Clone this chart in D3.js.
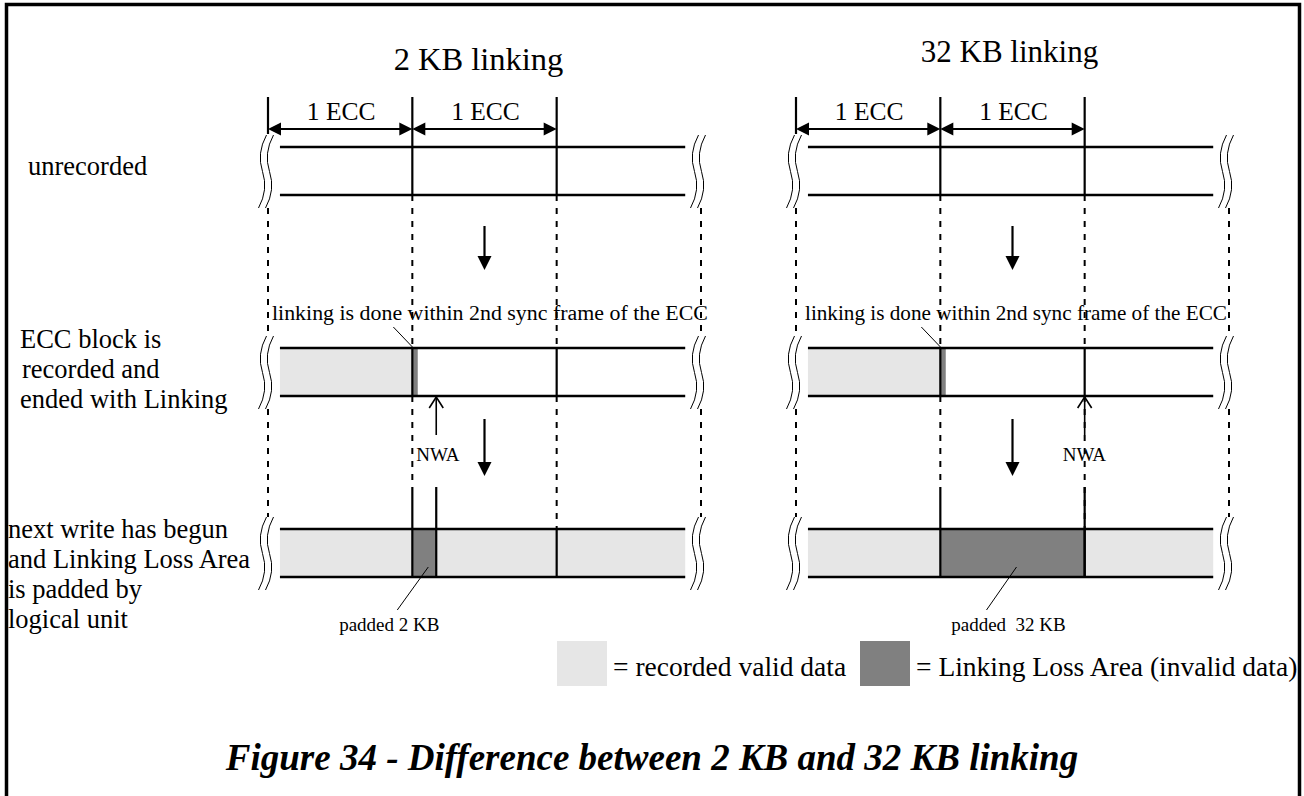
<!DOCTYPE html>
<html>
<head>
<meta charset="utf-8">
<script src="https://cdn.jsdelivr.net/npm/d3@7"></script>
<style>
  body { margin: 0; background: #fff; }
  svg text { font-family: "Liberation Serif", "Times New Roman", serif; fill: #000; }
</style>
</head>
<body>
<script>
// values (KB along the disc, one ECC block = 32 KB)
var panels     = ["2 KB linking", "32 KB linking"];
var padKB      = [2, 32];                       // size padded by the next write
var padLabels  = ["padded 2 KB", "padded  32 KB"];
var eccKB      = 32;
var eccBounds  = [0, 1, 2, 3];                  // ECC block boundaries
var eccLabels  = ["1 ECC", "1 ECC"];
var rowLabels  = [["unrecorded"],
                  ["ECC block is", "recorded and", "ended with Linking"],
                  ["next write has begun", "and Linking Loss Area", "is padded by", "logical unit"]];
var linkNote   = "linking is done within 2nd sync frame of the ECC";
var nwaLabel   = "NWA";
var legendText = ["= recorded valid data", "= Linking Loss Area (invalid data)"];
var caption    = "Figure 34 - Difference between 2 KB and 32 KB linking";

var light = "#e6e6e6", dark = "#808080";

var W = 1304, H = 796;
var svg = d3.select("body").append("svg")
    .attr("width", W).attr("height", H);

// outer frame (runs off the bottom)
svg.append("rect")
    .attr("x", 6.5).attr("y", 4.5)
    .attr("width", 1293).attr("height", 820)
    .attr("fill", "none").attr("stroke", "#000").attr("stroke-width", 3.5);

var rowTop = [147, 348, 529], rowH = 48;
var barFrom = 2.65, barTo = 92.5;      // where the drawn track starts/ends (KB)
var tickTop = 97, dimY = 129;
var padTop = 487;

// break mark: two thin S curves
function breakMark(g, cx, y0, y1) {
  [-3.5, 3.5].forEach(function(dx) {
    var c = cx + dx, h = y1 - y0;
    g.append("path")
      .attr("d", "M" + (c + 4) + "," + y0 +
                 " Q" + (c - 6) + "," + (y0 + h * 0.25) + " " + c + "," + (y0 + h * 0.5) +
                 " T" + (c - 4) + "," + y1)
      .attr("fill", "none").attr("stroke", "#000").attr("stroke-width", 1);
  });
}

function vline(g, x, y0, y1, dashed, w) {
  g.append("line")
    .attr("x1", x).attr("x2", x).attr("y1", y0).attr("y2", y1)
    .attr("stroke", "#000").attr("stroke-width", w || 2.2)
    .attr("stroke-dasharray", dashed ? "6,7" : null);
}

function downArrow(g, x, y0, y1) {
  vline(g, x, y0, y1 - 12, false, 2.2);
  g.append("path")
    .attr("d", "M" + (x - 7) + "," + (y1 - 14) + " L" + (x + 7) + "," + (y1 - 14) + " L" + x + "," + y1 + "Z")
    .attr("fill", "#000");
}

function upArrow(g, x, y0, y1) {
  vline(g, x, y0, y1, false, 1.6);
  g.append("path")
    .attr("d", "M" + (x - 7) + "," + (y0 + 11) + " L" + x + "," + y0 + " L" + (x + 7) + "," + (y0 + 11))
    .attr("fill", "none").attr("stroke", "#000").attr("stroke-width", 1.6);
}

panels.forEach(function(title, p) {
  var off = p * 528;
  var x = d3.scaleLinear().domain([0, 3 * eccKB]).range([268 + off, 701 + off]);
  var g = svg.append("g").attr("class", "panel");
  var link = eccKB;                                  // linking point, end of 1st ECC
  var padW = Math.max(padKB[p], 5.3);                // 2 KB drawn wider so it shows
  var nwaRow2 = p === 0 ? link + padW : 2 * eccKB;   // arrow under row 2
  var padEnd = link + padW;

  g.append("text")
    .attr("x", x(48) + (p === 0 ? -6 : -3))
    .attr("y", p === 0 ? 70 : 62)
    .attr("text-anchor", "middle")
    .style("font-size", p === 0 ? "32.5px" : "31px")
    .text(title);

  // dimension arrows "1 ECC"
  eccLabels.forEach(function(lbl, i) {
    var a = x(i * eccKB), b = x((i + 1) * eccKB);
    g.append("line").attr("x1", a + 10).attr("x2", b - 10).attr("y1", dimY).attr("y2", dimY)
      .attr("stroke", "#000").attr("stroke-width", 2.2);
    g.append("path").attr("d", "M" + a + "," + dimY + " L" + (a + 13) + "," + (dimY - 6.5) + " L" + (a + 13) + "," + (dimY + 6.5) + "Z");
    g.append("path").attr("d", "M" + b + "," + dimY + " L" + (b - 13) + "," + (dimY - 6.5) + " L" + (b - 13) + "," + (dimY + 6.5) + "Z");
    g.append("text")
      .attr("x", (a + b) / 2 + 1).attr("y", 120)
      .attr("text-anchor", "middle")
      .style("font-size", "25.5px")
      .text(lbl);
  });
  vline(g, x(0), tickTop, dimY + 5);

  // fills
  g.append("rect").attr("x", x(barFrom)).attr("y", rowTop[1])
    .attr("width", x(link) - x(barFrom)).attr("height", rowH).attr("fill", light);
  g.append("rect").attr("x", x(link)).attr("y", rowTop[1])
    .attr("width", x(link + 1.2) - x(link)).attr("height", rowH).attr("fill", dark);
  g.append("rect").attr("x", x(barFrom)).attr("y", rowTop[2])
    .attr("width", x(barTo) - x(barFrom)).attr("height", rowH).attr("fill", light);
  g.append("rect").attr("x", x(link)).attr("y", rowTop[2])
    .attr("width", x(padEnd) - x(link)).attr("height", rowH).attr("fill", dark);

  // track lines and break marks
  rowTop.forEach(function(t) {
    [t, t + rowH].forEach(function(y) {
      g.append("line").attr("x1", x(barFrom)).attr("x2", x(barTo)).attr("y1", y).attr("y2", y)
        .attr("stroke", "#000").attr("stroke-width", 2.3);
    });
    breakMark(g, x(0) - 2, t - 12, t + rowH + 13);
    breakMark(g, x(96) - 3, t - 12, t + rowH + 13);
  });

  // dashed ECC boundaries between the rows
  eccBounds.forEach(function(b) {
    var outer = b === 0 || b === 3;
    var gap = outer ? 13 : 0;
    vline(g, x(b * eccKB), rowTop[0] + rowH + gap, rowTop[1] - (outer ? 12 : 0), true, 2);
    var stop = (b === 1) ? padTop - 6 : rowTop[2] - (outer ? 12 : 0);
    vline(g, x(b * eccKB), rowTop[1] + rowH + gap, stop, true, 2);
  });

  // solid boundaries through the rows
  [1, 2].forEach(function(b) {
    vline(g, x(b * eccKB), tickTop, rowTop[0] + rowH);
    vline(g, x(b * eccKB), rowTop[1], rowTop[1] + rowH);
  });
  vline(g, x(link), padTop, rowTop[2] + rowH);
  vline(g, x(padEnd), padTop, rowTop[2] + rowH);
  vline(g, x(2 * eccKB), rowTop[2], rowTop[2] + rowH);

  // flow arrows
  downArrow(g, x(48), 226, 270);
  downArrow(g, x(48), 419, 476);

  // annotation for linking point
  g.append("text")
    .attr("x", x(0) + (p === 0 ? 4 : 9)).attr("y", 320)
    .style("font-size", p === 0 ? "21.9px" : "21.2px")
    .text(linkNote);
  g.append("line")
    .attr("x1", x(link) - 19).attr("y1", 327).attr("x2", x(link) + 2).attr("y2", 349)
    .attr("stroke", "#000").attr("stroke-width", 1);

  // NWA
  upArrow(g, x(nwaRow2), 397, 435);
  g.append("text")
    .attr("x", x(nwaRow2) + (p === 0 ? -20 : -22)).attr("y", 461)
    .style("font-size", "19px")
    .text(nwaLabel);

  // padded label
  var pm = (x(link) + x(padEnd)) / 2;
  g.append("line")
    .attr("x1", pm + 4).attr("y1", 567)
    .attr("x2", pm + (p === 0 ? -27 : -26)).attr("y2", 610)
    .attr("stroke", "#000").attr("stroke-width", 1);
  g.append("text")
    .attr("x", pm - (p === 0 ? 35 : 4)).attr("y", 631)
    .attr("text-anchor", "middle")
    .style("font-size", "19px")
    .style("white-space", "pre")
    .text(padLabels[p]);
});

// row descriptions on the left
var labelX = [[28], [20, 22, 20], [8, 8, 8, 8]];
var labelY = [175, 348, 538];
rowLabels.forEach(function(lines, r) {
  lines.forEach(function(s, i) {
    svg.append("text")
      .attr("x", labelX[r][i]).attr("y", labelY[r] + i * 30)
      .style("font-size", "26.5px")
      .text(s);
  });
});

// legend
var legendBox = [{x: 557, fill: light}, {x: 860, fill: dark}];
legendText.forEach(function(s, i) {
  svg.append("rect").attr("x", legendBox[i].x).attr("y", 641)
    .attr("width", 50).attr("height", 45).attr("fill", legendBox[i].fill);
  svg.append("text").attr("x", legendBox[i].x + 56).attr("y", 676)
    .style("font-size", "27.5px")
    .text(s);
});

svg.append("text")
  .attr("x", 652).attr("y", 770)
  .attr("text-anchor", "middle")
  .style("font-size", "37px").style("font-weight", "bold").style("font-style", "italic")
  .text(caption);
</script>
</body>
</html>
